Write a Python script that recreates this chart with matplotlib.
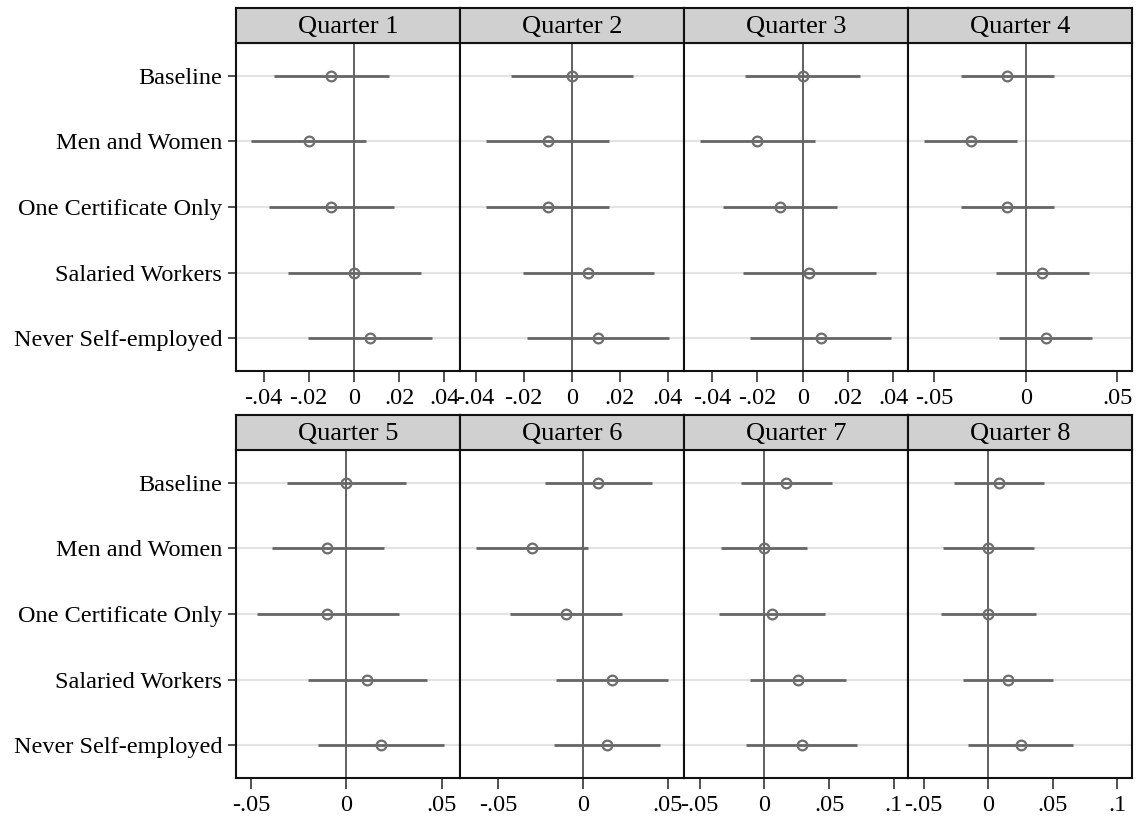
import matplotlib.pyplot as plt
from matplotlib.ticker import FuncFormatter

plt.rcParams['font.family'] = ['Liberation Serif', 'DejaVu Serif']

labels = ['Baseline', 'Men and Women', 'One Certificate Only',
          'Salaried Workers', 'Never Self-employed']
titles = ['Quarter %d' % q for q in range(1, 9)]

# point estimates per quarter (order as labels)
est = [
    [-0.010, -0.020, -0.010, 0.000, 0.007],
    [0.000, -0.010, -0.010, 0.007, 0.011],
    [0.000, -0.020, -0.010, 0.003, 0.008],
    [-0.010, -0.030, -0.010, 0.009, 0.011],
    [0.000, -0.010, -0.010, 0.011, 0.018],
    [0.009, -0.030, -0.010, 0.017, 0.014],
    [0.017, 0.000, 0.006, 0.026, 0.029],
    [0.008, 0.000, 0.000, 0.015, 0.025],
]
lo = [
    [-0.0354, -0.0454, -0.0375, -0.0292, -0.0204],
    [-0.0254, -0.0356, -0.0356, -0.0204, -0.0185],
    [-0.0255, -0.0454, -0.0354, -0.0264, -0.0233],
    [-0.0352, -0.0552, -0.0352, -0.0163, -0.0144],
    [-0.0309, -0.0390, -0.0470, -0.0201, -0.0150],
    [-0.0222, -0.0630, -0.0431, -0.0161, -0.0173],
    [-0.0180, -0.0333, -0.0348, -0.0110, -0.0139],
    [-0.0268, -0.0349, -0.0369, -0.0198, -0.0157],
]
hi = [
    [0.0155, 0.0055, 0.0176, 0.0295, 0.0345],
    [0.0254, 0.0154, 0.0154, 0.0344, 0.0404],
    [0.0254, 0.0053, 0.0153, 0.0323, 0.0392],
    [0.0152, -0.0047, 0.0152, 0.0343, 0.0363],
    [0.0315, 0.0196, 0.0275, 0.0425, 0.0514],
    [0.0404, 0.0031, 0.0231, 0.0502, 0.0453],
    [0.0522, 0.0330, 0.0467, 0.0630, 0.0717],
    [0.0432, 0.0352, 0.0372, 0.0502, 0.0659],
]
xlims = [(-0.0522, 0.0469), (-0.0465, 0.0468), (-0.0525, 0.0466), (-0.0641, 0.0579),
         (-0.0578, 0.0596), (-0.0724, 0.0594), (-0.0622, 0.1110), (-0.0622, 0.1114)]
xticks = [[-0.04, -0.02, 0, 0.02, 0.04]] * 3 + [[-0.05, 0, 0.05]] * 3 + [[-0.05, 0, 0.05, 0.1]] * 2


def stata_fmt(v, pos=None):
    if abs(v) < 1e-12:
        return '0'
    s = ('%.2f' % v).rstrip('0')
    return s.replace('0.', '.')


W, H = 1139, 821
fig = plt.figure(figsize=(W / 100, H / 100), dpi=100)

lefts = [236, 460, 684, 908]
pw = 224
rows = [(43, 371), (450, 778)]
hh = 35
ypos = list(range(1, len(labels) + 1))
fs = 17.5

for i in range(8):
    r, c = divmod(i, 4)
    top, bot = rows[r]
    ax = fig.add_axes([lefts[c] / W, 1 - bot / H, pw / W, (bot - top) / H])
    for y in ypos:
        ax.axhline(y, color='#e3e3e3', lw=1.5, zorder=0)
    ax.axvline(0, color='#555555', lw=1.3, zorder=1)
    e = est[i]
    xerr = [[e[k] - lo[i][k] for k in range(5)], [hi[i][k] - e[k] for k in range(5)]]
    ax.errorbar(e, ypos, xerr=xerr, fmt='o', color='#666666', ecolor='#666666',
                elinewidth=2, capsize=0, ms=7, mfc='none', mec='#6e6e6e', mew=1.6, zorder=3)
    ax.set_ylim(5.5, 0.5)
    ax.set_xlim(*xlims[i])
    ax.set_xticks(xticks[i])
    ax.xaxis.set_major_formatter(FuncFormatter(stata_fmt))
    ax.tick_params(axis='x', length=8, width=1.2, color='#333333', labelsize=fs, pad=4)
    if c == 0:
        ax.set_yticks(ypos)
        ax.set_yticklabels(labels)
        ax.tick_params(axis='y', length=6, width=1.2, color='#333333', labelsize=fs, pad=4)
    else:
        ax.set_yticks([])
    for sp in ax.spines.values():
        sp.set_linewidth(1.5)
        sp.set_color('#111111')

    hax = fig.add_axes([lefts[c] / W, 1 - top / H, pw / W, hh / H])
    hax.set_facecolor('#d0d0d0')
    hax.set_xticks([])
    hax.set_yticks([])
    for sp in hax.spines.values():
        sp.set_linewidth(1.5)
        sp.set_color('#111111')
    hax.text(0.5, 0.45, titles[i], ha='center', va='center', fontsize=19,
             transform=hax.transAxes)

fig.savefig('out.png', dpi=100, facecolor='white')
